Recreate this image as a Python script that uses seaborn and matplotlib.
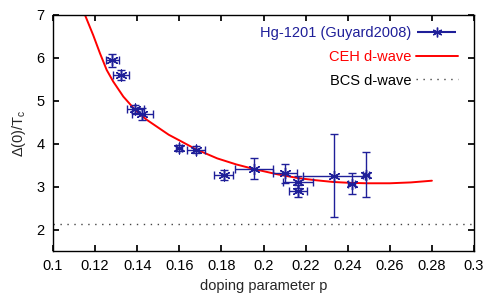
import pandas as pd
import seaborn as sns
from matplotlib import pyplot as plt
from matplotlib.lines import Line2D
from matplotlib.legend_handler import HandlerErrorbar

# Hg-1201 data (Guyard 2008)
p_data = [0.1282, 0.1323, 0.1390, 0.1423, 0.1600, 0.1680, 0.1810, 0.1955,
          0.2102, 0.2165, 0.2165, 0.2335, 0.2419, 0.2487]
gap_data = [5.95, 5.60, 4.81, 4.69, 3.90, 3.86, 3.28, 3.42,
            3.31, 3.11, 2.91, 3.26, 3.07, 3.28]
p_err = [0.0030, 0.0036, 0.0040, 0.0050, 0.0015, 0.0042, 0.0043, 0.0089,
         0.0055, 0.0070, 0.0043, 0.0145, 0.0016, 0.0015]
gap_err = [0.15, 0.12, 0.10, 0.14, 0.07, 0.08, 0.12, 0.24,
           0.23, 0.15, 0.14, 0.96, 0.25, 0.52]

# CEH d-wave model curve
p_ceh = [0.1152, 0.1191, 0.1223, 0.1255, 0.1286, 0.1334, 0.1390, 0.1445,
         0.1508, 0.1550, 0.1600, 0.1680, 0.1780, 0.1870, 0.1956, 0.2065,
         0.2165, 0.2250, 0.2332, 0.2410, 0.2490, 0.2600, 0.2700, 0.2800]
gap_ceh = [7.00, 6.53, 6.11, 5.72, 5.45, 5.10, 4.79, 4.56,
           4.35, 4.21, 4.08, 3.87, 3.66, 3.52, 3.41, 3.29,
           3.20, 3.15, 3.11, 3.09, 3.08, 3.08, 3.10, 3.14]

bcs_dwave = 2.14

x_ticks = [0.1, 0.12, 0.14, 0.16, 0.18, 0.2, 0.22, 0.24, 0.26, 0.28, 0.3]
y_ticks = [2, 3, 4, 5, 6, 7]

blue = '#1f1f99'
star = (6, 2, 0)
fs = 10.5

sns.set_theme(style='ticks')
plt.rcParams['font.family'] = ['Liberation Sans', 'DejaVu Sans']
plt.rcParams['mathtext.default'] = 'regular'

fig = plt.figure(figsize=(5, 3), dpi=100)
ax = fig.add_axes([0.106, 0.163, 0.842, 0.787])

ceh = pd.DataFrame({'p': p_ceh, 'gap': gap_ceh})
sns.lineplot(data=ceh, x='p', y='gap', color='red', lw=1.4, ax=ax,
             sort=False, legend=False)

bcs, = ax.plot([0.1, 0.3], [bcs_dwave, bcs_dwave], ls=(0, (1, 4)),
               color='#444444', lw=1)

ax.errorbar(p_data, gap_data, xerr=p_err, yerr=gap_err, fmt='none',
            ecolor=blue, elinewidth=1, capsize=3, capthick=1)
sns.scatterplot(x=p_data, y=gap_data, marker=star, s=60, color=blue,
                linewidth=1, ax=ax, legend=False, zorder=4)

ax.set_xlim(0.1, 0.3)
ax.set_ylim(1.5, 7)
ax.set_xticks(x_ticks)
ax.set_xticklabels([f'{t:g}' for t in x_ticks])
ax.set_yticks(y_ticks)
ax.tick_params(direction='in', top=True, right=True, length=4,
               labelsize=fs, colors='black', pad=6)
for s in ax.spines.values():
    s.set_linewidth(1)
    s.set_color('black')

ax.set_xlabel('doping parameter p', fontsize=fs, labelpad=4)
ax.set_ylabel(r'$\Delta(0)/T_c$', fontsize=fs, labelpad=6)

# legend proxies
h_eb = ax.errorbar([], [], xerr=[], yerr=[], fmt='', ls='none', marker=star,
                   ms=7, mew=1, color=blue, ecolor=blue, capsize=3)
h_ceh = Line2D([], [], color='red', lw=1.4)
ax.legend([h_eb, h_ceh, bcs],
          ['Hg-1201 (Guyard2008)', 'CEH d-wave', 'BCS d-wave'],
          loc='upper right', frameon=False, markerfirst=False,
          fontsize=fs, labelcolor=[blue, 'red', 'black'],
          handlelength=2.9, handletextpad=0.3, labelspacing=0.68,
          borderaxespad=0.5, bbox_to_anchor=(0.993, 1.01),
          handler_map={type(h_eb): HandlerErrorbar(xerr_size=1.35,
                                                   yerr_size=0)})

fig.savefig('out.png', dpi=100)
